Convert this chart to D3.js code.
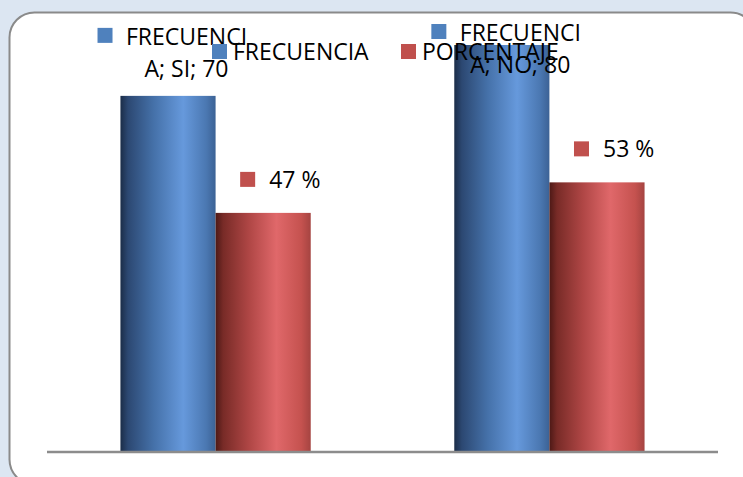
<!DOCTYPE html>
<html>
<head>
<meta charset="utf-8">
<script src="https://cdn.jsdelivr.net/npm/d3@7"></script>
<style>
  html, body { margin: 0; padding: 0; background: #dce6f2; }
  svg { display: block; }
  text { font-family: "Open Sans", Lato, sans-serif; fill: #000; }
</style>
</head>
<body>
<svg id="chart" width="743" height="477"></svg>
<script>
// Survey answers and the two measures shown per answer
const categories = ["SI", "NO"];
const seriesNames = ["FRECUENCIA", "PORCENTAJE"];
const frecuencia = [70, 80];
const porcentaje = [47, 53];
const seriesColors = { FRECUENCIA: "#4f81bd", PORCENTAJE: "#c0504d" };

const W = 743, H = 477;
const svg = d3.select("#chart");

// Outer background and rounded chart panel
svg.append("rect").attr("width", W).attr("height", H).attr("fill", "#dce6f2");
svg.append("rect")
  .attr("x", 9.5).attr("y", 12.5)
  .attr("width", 746).attr("height", 472)
  .attr("rx", 25).attr("ry", 25)
  .attr("fill", "#ffffff")
  .attr("stroke", "#8a8a8a").attr("stroke-width", 2);

// Cylinder-like shading for each series
const defs = svg.append("defs");
const gradStops = {
  FRECUENCIA: [[0, "#1b2d48"], [0.08, "#2c4872"], [0.35, "#4571a9"], [0.66, "#6699dc"], [0.9, "#4b78b2"], [1, "#3c6295"]],
  PORCENTAJE: [[0, "#4d1916"], [0.08, "#782b27"], [0.35, "#af4645"], [0.64, "#e0686a"], [0.9, "#c5524f"], [1, "#a54441"]]
};
seriesNames.forEach((s, i) => {
  const g = defs.append("linearGradient")
    .attr("id", "grad" + i)
    .attr("x1", "0%").attr("x2", "100%").attr("y1", "0%").attr("y2", "0%");
  gradStops[s].forEach(([o, c]) => g.append("stop").attr("offset", o).attr("stop-color", c));
});

// Scales
const baseY = 452;
const x0 = d3.scaleBand().domain(categories).range([47, 718]).paddingInner(0.43).paddingOuter(0.22);
const x1 = d3.scaleBand().domain(seriesNames).range([0, x0.bandwidth()]);
const y = d3.scaleLinear().domain([0, 80]).range([baseY, 45]);

const rows = categories.map((c, i) => ({
  cat: c,
  values: [
    { s: "FRECUENCIA", v: frecuencia[i] },
    { s: "PORCENTAJE", v: porcentaje[i] }
  ]
}));

// Bars
const groups = svg.selectAll("g.cat").data(rows).enter().append("g")
  .attr("class", "cat")
  .attr("transform", d => `translate(${x0(d.cat)},0)`);

groups.selectAll("rect.bar").data(d => d.values).enter().append("rect")
  .attr("class", "bar")
  .attr("x", d => x1(d.s))
  .attr("width", x1.bandwidth())
  .attr("y", d => y(d.v))
  .attr("height", d => y(0) - y(d.v))
  .attr("fill", d => "url(#grad" + seriesNames.indexOf(d.s) + ")");

// Category axis line (no ticks or labels)
svg.append("line")
  .attr("x1", 47).attr("x2", 718)
  .attr("y1", baseY).attr("y2", baseY)
  .attr("stroke", "#8c8c8c").attr("stroke-width", 2.5);

const fontSize = 23;

// Frequency data labels: series name wrapped, category and value, with key
rows.forEach(r => {
  const d = r.values[0];
  const cx = x0(r.cat) + x1(d.s) + x1.bandwidth() / 2 + 18.5;
  const line2 = Math.max(y(d.v) - 19, 73);
  const line1 = line2 - 32;
  const g = svg.append("g");
  g.append("rect")
    .attr("x", cx - 89).attr("y", line1 - 17)
    .attr("width", 15).attr("height", 15)
    .attr("fill", seriesColors[d.s]);
  const t = g.append("text")
    .attr("text-anchor", "middle")
    .attr("font-size", fontSize);
  t.append("tspan").attr("x", cx).attr("y", line1).text("FRECUENCI");
  t.append("tspan").attr("x", cx).attr("y", line2).text(`A; ${r.cat}; ${d.v}`);
});

// Percentage data labels with key
rows.forEach(r => {
  const d = r.values[1];
  const cx = x0(r.cat) + x1(d.s) + x1.bandwidth() / 2;
  const base = y(d.v) - 25;
  svg.append("rect")
    .attr("x", cx - 23).attr("y", base - 16)
    .attr("width", 15).attr("height", 15)
    .attr("fill", seriesColors[d.s]);
  svg.append("text")
    .attr("x", cx + 6).attr("y", base)
    .attr("font-size", fontSize)
    .text(`${d.v} %`);
});

// Legend
const legendX = [212, 401];
seriesNames.forEach((s, i) => {
  svg.append("rect")
    .attr("x", legendX[i]).attr("y", 44)
    .attr("width", 15).attr("height", 15)
    .attr("fill", seriesColors[s]);
  svg.append("text")
    .attr("x", legendX[i] + 21).attr("y", 60)
    .attr("font-size", fontSize)
    .text(s);
});
</script>
</body>
</html>
